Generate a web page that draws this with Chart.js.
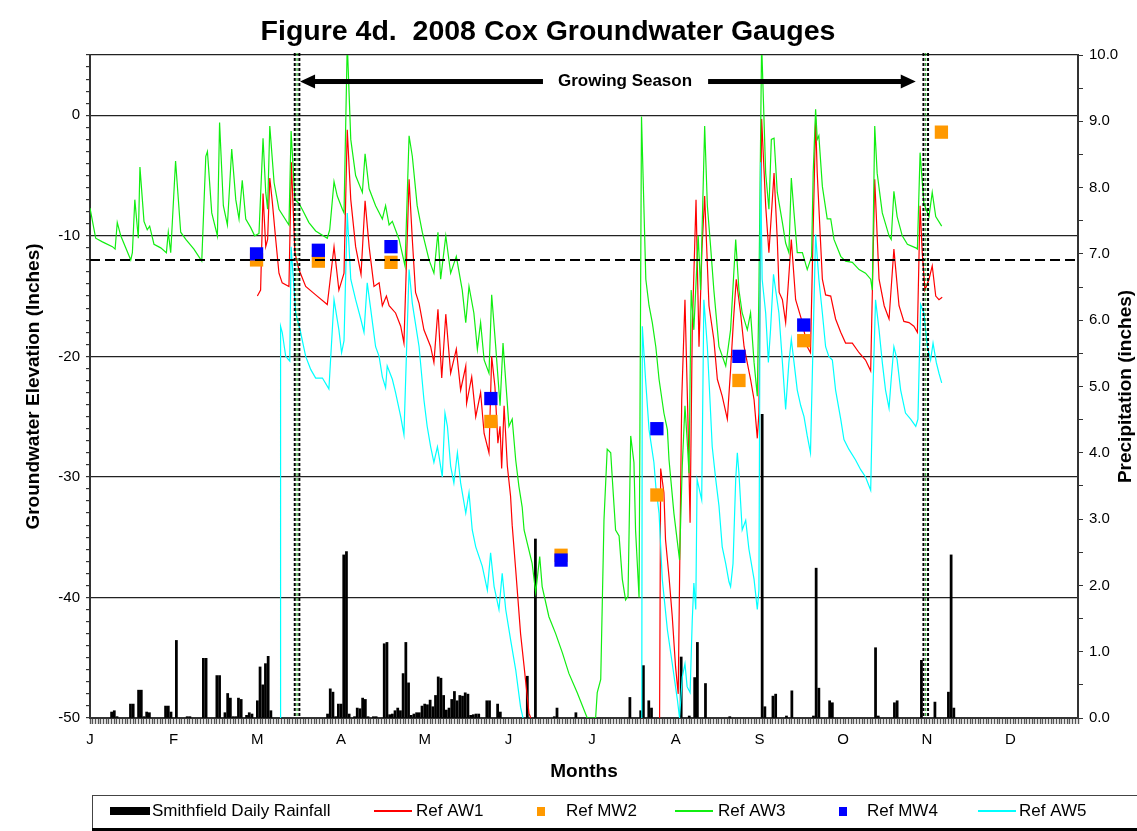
<!DOCTYPE html>
<html lang="en">
<head>
<meta charset="UTF-8">
<title>Figure 4d. 2008 Cox Groundwater Gauges</title>
<script src="https://cdn.jsdelivr.net/npm/chart.js"></script>
<style>
  body { margin: 0; background: #fff; }
</style>
</head>
<body>
<canvas id="gwChart" width="1137" height="831"></canvas>
<script>
// x = day of 2008 (0 = 1 Jan), y = inches
const monthLetters = ['J', 'F', 'M', 'A', 'M', 'J', 'J', 'A', 'S', 'O', 'N', 'D'];

const rainfall = [
  [8,0.09],[9,0.11],[10,0.02],[15,0.21],[16,0.21],[18,0.42],[19,0.42],[20,0.02],[21,0.09],[22,0.08],
  [28,0.18],[29,0.18],[30,0.09],[32,1.17],[36,0.02],[37,0.02],[42,0.90],[43,0.90],[47,0.64],[48,0.64],
  [50,0.08],[51,0.37],[52,0.30],[53,0.02],[54,0.02],[55,0.30],[56,0.28],[58,0.04],[59,0.08],[60,0.06],
  [62,0.26],[63,0.77],[64,0.50],[65,0.82],[66,0.93],[67,0.11],[88,0.06],[89,0.44],[90,0.39],[91,0.02],
  [92,0.21],[93,0.21],[94,2.46],[95,2.51],[96,0.06],[98,0.02],[99,0.15],[100,0.14],[101,0.30],[102,0.28],
  [103,0.02],[105,0.02],[106,0.02],[109,1.12],[110,1.14],[111,0.05],[112,0.06],[113,0.11],[114,0.15],[115,0.11],
  [116,0.67],[117,1.14],[118,0.53],[119,0.04],[120,0.06],[121,0.08],[122,0.08],[123,0.18],[124,0.21],[125,0.20],
  [126,0.27],[127,0.17],[128,0.34],[129,0.62],[130,0.60],[131,0.34],[132,0.12],[133,0.15],[134,0.28],[135,0.40],
  [136,0.26],[137,0.34],[138,0.33],[139,0.38],[140,0.36],[141,0.04],[142,0.05],[143,0.06],[144,0.06],[147,0.26],
  [148,0.26],[151,0.21],[152,0.09],[162,0.63],[165,2.70],[172,0.02],[173,0.15],[180,0.08],[200,0.31],[204,0.11],
  [205,0.79],[207,0.26],[208,0.15],[219,0.92],[222,0.03],[224,0.61],[225,1.14],[228,0.52],[237,0.02],[249,4.58],
  [250,0.17],[253,0.33],[254,0.36],[258,0.03],[260,0.41],[268,0.03],[269,2.26],[270,0.45],[274,0.26],[275,0.23],
  [291,1.06],[292,0.03],[298,0.23],[299,0.26],[308,0.87],[313,0.24],[318,0.39],[319,2.46],[320,0.15]
];

const refAW1 = [
  [62.0,-15.0],[63.2,-14.5],[64.1,-6.5],[65.1,-10.9],[65.8,-10.3],[66.6,-5.2],[67.5,-7.1],[68.8,-10.3],[70.0,-13.1],
  [71.2,-13.9],[73.7,-14.2],[74.6,-3.9],[75.9,-11.4],[77.4,-12.8],[79.9,-14.2],[83.6,-14.9],[87.9,-15.7],[90.4,-10.9],
  [92.2,-14.5],[94.1,-13.1],[95.3,-1.2],[96.6,-7.0],[98.4,-10.9],[100.4,-13.2],[101.9,-7.1],[103.4,-10.9],[105.2,-14.2],
  [107.1,-13.9],[108.3,-15.8],[109.8,-15.0],[110.8,-15.8],[113.2,-16.4],[115.1,-17.5],[116.3,-18.9],[118.2,-5.3],
  [119.4,-10.3],[120.6,-14.7],[121.9,-15.6],[123.7,-17.8],[126.2,-19.2],[127.4,-20.5],[128.9,-16.1],[130.3,-21.8],
  [131.8,-16.5],[133.6,-21.4],[135.7,-19.4],[137.3,-22.8],[139.2,-20.8],[139.5,-23.9],[141.4,-21.7],[142.9,-25.0],
  [144.7,-23.0],[146.0,-26.4],[147.8,-28.0],[148.8,-20.0],[150.0,-22.5],[151.1,-27.2],[151.9,-25.8],[152.5,-29.3],
  [153.4,-24.1],[154.6,-29.1],[155.8,-31.6],[156.4,-34.0],[157.7,-37.7],[159.5,-43.0],[160.8,-45.7],[162.6,-49.6],
  [163.3,-50],[190,null],
  [211.0,-50],[211.4,-29.3],[212.6,-31.3],[213.2,-35.2],[214.5,-38.3],[215.7,-41.6],[216.9,-45.7],[217.9,-48.0],
  [219.2,-23.6],[220.4,-15.3],[221.5,-25.2],[222.3,-33.8],[223.1,-17.8],[224.5,-7.0],[225.6,-19.2],[226.7,-11.1],
  [227.7,-6.7],[229.3,-15.8],[231.1,-18.6],[232.4,-21.9],[234.2,-23.3],[236.1,-25.2],[237.3,-21.1],[238.4,-16.9],
  [239.4,-13.6],[241.0,-16.4],[242.3,-19.2],[244.7,-21.9],[246.0,-23.6],[247.2,-26.8],[247.8,-24.7],[248.8,-0.3],
  [250.3,-7.5],[251.5,-11.4],[253.4,-4.8],[254.6,-10.3],[255.3,-14.7],[256.5,-15.3],[257.7,-17.2],[259.8,-10.3],
  [261.4,-15.3],[263.9,-17.2],[265.7,-19.2],[266.9,-19.7],[268.8,-0.3],[269.4,-4.8],[271.3,-13.6],[272.5,-14.9],
  [274.4,-15.0],[276.2,-16.9],[278.1,-18.0],[279.9,-18.9],[282.4,-18.9],[284.9,-19.7],[287.3,-20.3],[289.2,-21.2],
  [290.7,-5.3],[292.3,-13.6],[294.2,-15.8],[296.0,-16.9],[297.8,-11.1],[299.7,-15.8],[301.5,-17.1],[303.4,-17.2],
  [305.2,-17.5],[306.5,-18.0],[307.5,-7.5],[308.3,-11.4],[309.3,-14.5],[310.8,-13.6],[312.0,-12.5],[313.3,-15.0],
  [314.5,-15.3],[315.7,-15.1]
];

const refAW3 = [
  [0,-7.7],[2.1,-10.2],[4.6,-10.5],[8.3,-10.9],[9.3,-11.1],[10.1,-8.9],[11.4,-10.0],[15.1,-12.0],[15.7,-11.4],
  [16.6,-7.0],[17.9,-10.2],[18.5,-4.3],[20.0,-8.8],[21.2,-9.5],[22.1,-9.2],[23.7,-10.7],[26.2,-11.0],[28.3,-11.4],
  [29.0,-9.7],[29.9,-11.4],[31.7,-3.8],[33.6,-9.7],[35.5,-10.3],[38.5,-11.1],[41.4,-12.1],[42.9,-3.4],[43.5,-3.0],
  [45.1,-8.1],[47.2,-10.0],[48.0,-0.6],[49.4,-7.5],[50.9,-9.1],[52.5,-2.8],[54.0,-7.0],[55.2,-8.6],[56.4,-5.4],
  [57.7,-8.6],[59.5,-9.3],[61.0,-10.0],[62.6,-9.8],[64.1,-1.9],[65.1,-6.4],[65.8,-7.8],[66.6,-0.9],[68.2,-5.6],
  [70.0,-7.8],[73.7,-9.1],[74.5,-1.3],[75.9,-7.0],[77.4,-7.3],[78.6,-7.8],[81.1,-8.9],[83.6,-9.6],[87.9,-10.2],
  [88.8,-9.5],[90.4,-5.5],[91.6,-6.7],[93.5,-7.8],[94.1,-8.1],[95.3,6.0],[96.6,-2.0],[98.4,-5.0],[100.9,-6.4],
  [101.9,-3.2],[103.4,-6.1],[105.8,-7.5],[108.3,-8.6],[109.5,-7.5],[110.8,-9.1],[112.0,-8.8],[114.5,-10.3],
  [116.7,-12.5],[118.2,-1.7],[119.4,-3.4],[121.2,-7.5],[123.1,-9.7],[125.6,-12.0],[127.4,-13.1],[128.9,-9.7],
  [129.9,-13.6],[131.8,-10.0],[133.6,-13.1],[135.7,-11.7],[137.9,-14.5],[139.2,-17.2],[140.4,-14.2],[142.2,-16.4],
  [143.5,-19.4],[144.7,-17.2],[146.0,-20.3],[147.8,-21.4],[148.8,-14.9],[150.3,-19.2],[151.9,-24.1],[153.0,-18.9],
  [154.4,-23.3],[155.2,-25.8],[156.4,-25.2],[157.7,-28.6],[158.9,-30.8],[160.1,-32.5],[160.8,-34.4],[163.8,-37.2],
  [165.1,-39.6],[166.6,-36.6],[167.5,-39.1],[170.0,-41.6],[172.5,-43.0],[175.0,-44.6],[177.4,-46.3],[180.5,-47.9],
  [184.2,-50],[187.3,-50],[187.9,-47.9],[189.2,-46.8],[190.4,-33.6],[191.6,-27.7],[192.9,-28.0],[193.5,-30.2],
  [194.7,-34.4],[196.0,-34.9],[197.2,-38.5],[198.4,-40.2],[199.3,-39.9],[200.3,-26.6],[201.5,-28.8],[202.1,-34.4],
  [203.4,-40.0],[204.3,-0.1],[205.9,-13.6],[207.1,-15.8],[208.3,-17.2],[209.6,-19.2],[210.8,-21.9],[212.6,-24.7],
  [213.9,-26.1],[214.5,-28.6],[216.3,-33.0],[218.4,-36.9],[219.4,-29.1],[220.4,-24.1],[221.2,-26.9],[221.9,-29.7],
  [222.7,-14.5],[223.7,-17.8],[225.3,-10.0],[226.2,-14.5],[227.7,-0.9],[228.7,-7.5],[229.9,-10.9],[231.1,-14.5],
  [233.0,-19.2],[235.5,-20.8],[237.3,-17.8],[239.2,-10.3],[240.4,-14.5],[241.6,-16.4],[243.5,-17.8],[244.7,-16.4],
  [246.0,-20.5],[247.2,-23.3],[247.8,-14.5],[248.8,6.0],[250.3,-4.8],[251.5,-7.8],[252.4,-2.0],[253.4,-1.9],
  [254.6,-6.4],[256.5,-8.9],[257.7,-10.6],[258.9,-11.4],[259.8,-5.2],[260.8,-8.1],[262.0,-11.4],[263.9,-11.4],
  [265.7,-12.8],[267.3,-11.7],[267.9,-4.8],[268.8,0.5],[269.4,-2.0],[270.0,-1.7],[271.3,-5.9],[273.1,-8.6],
  [274.4,-8.6],[275.6,-10.3],[278.1,-11.7],[279.9,-12.1],[282.4,-12.2],[284.9,-12.8],[287.3,-13.1],[289.2,-13.6],
  [289.8,-14.5],[290.7,-0.9],[291.6,-4.8],[293.5,-8.1],[296.0,-10.0],[296.8,-10.3],[297.8,-6.3],[299.0,-8.4],
  [300.9,-10.0],[302.8,-10.7],[305.9,-11.0],[306.5,-11.1],[307.5,-3.1],[308.9,-7.3],[310.8,-8.4],[312.0,-6.4],
  [313.3,-8.4],[315.5,-9.2]
];

const refAW5 = [
  [70.4,-50],[70.6,-17.5],[71.2,-18.0],[72.5,-20.0],[74.0,-20.4],[74.5,-10.9],[76.2,-16.4],[78.0,-18.0],[79.9,-20.0],
  [81.8,-21.1],[83.6,-21.8],[86.1,-21.8],[88.5,-22.7],[90.4,-15.3],[92.2,-17.8],[93.2,-19.7],[94.1,-18.7],[95.3,-8.1],
  [96.6,-13.6],[98.4,-15.3],[100.3,-16.9],[101.5,-18.0],[102.7,-13.9],[104.0,-16.1],[105.8,-19.2],[107.1,-20.0],
  [108.3,-21.7],[109.5,-22.6],[110.1,-20.8],[112.0,-21.9],[113.2,-23.0],[115.1,-25.0],[116.3,-26.5],[118.2,-12.8],
  [119.4,-15.6],[121.9,-19.2],[123.7,-23.6],[124.9,-25.8],[126.2,-27.5],[127.4,-28.8],[128.7,-27.5],[129.3,-28.3],
  [130.5,-30.0],[131.5,-24.7],[132.4,-25.8],[133.6,-29.1],[134.8,-30.5],[136.1,-28.0],[137.3,-30.5],[139.2,-33.0],
  [140.4,-31.3],[141.6,-34.4],[142.9,-35.8],[145.3,-37.4],[147.2,-39.4],[148.4,-36.3],[149.7,-39.1],[151.5,-41.0],
  [152.7,-38.0],[154.0,-41.0],[155.8,-43.5],[157.7,-46.0],[159.5,-49.1],[160.4,-50],[180,null],
  [204.4,-50],[204.6,-17.5],[205.8,-21.9],[207.1,-26.1],[208.9,-28.8],[209.6,-30.8],[210.8,-33.0],[212.0,-38.5],
  [213.9,-42.7],[215.7,-45.5],[217.6,-48.5],[218.4,-50],[219.4,-46.6],[220.4,-45.5],[221.2,-47.4],[222.3,-47.9],
  [223.1,-41.9],[223.7,-38.8],[224.4,-41.0],[224.9,-30.2],[226.6,-31.9],[227.4,-15.3],[228.7,-19.2],[229.9,-24.7],
  [230.5,-27.5],[231.8,-30.2],[233.0,-32.4],[234.2,-35.8],[235.5,-37.2],[236.7,-38.7],[237.3,-39.1],[238.2,-37.2],
  [239.2,-30.2],[239.8,-28.0],[240.4,-29.7],[241.6,-34.4],[242.9,-33.6],[244.1,-36.0],[246.0,-38.5],[247.2,-41.0],
  [247.8,-39.4],[248.4,-3.9],[249.0,-13.6],[250.3,-16.4],[251.3,-20.5],[252.1,-17.8],[253.2,-13.2],[255.2,-16.4],
  [256.5,-20.5],[257.7,-24.4],[258.9,-20.5],[259.8,-18.6],[260.8,-20.5],[262.0,-22.8],[263.3,-24.1],[264.5,-25.0],
  [265.7,-26.6],[266.9,-28.0],[268.8,-9.9],[270.0,-13.6],[271.3,-16.4],[272.5,-19.2],[273.7,-20.0],[275.0,-20.3],
  [276.2,-22.8],[278.1,-25.2],[279.3,-26.9],[281.1,-27.7],[283.6,-28.6],[285.5,-29.4],[287.3,-30.0],[289.2,-31.1],
  [289.8,-24.7],[291.0,-15.3],[292.3,-17.8],[293.5,-20.5],[294.7,-22.8],[296.0,-24.3],[296.8,-21.9],[297.8,-19.2],
  [299.0,-20.3],[300.3,-22.8],[302.1,-24.7],[304.0,-25.2],[305.9,-25.8],[306.7,-25.2],[307.7,-15.7],[308.9,-16.4],
  [310.2,-19.2],[311.4,-20.3],[312.3,-18.9],[313.5,-20.5],[314.5,-21.4],[315.5,-22.2]
];

const refMW2 = [
  [61.7,-12.0],[84.6,-12.1],[111.5,-12.2],[148.5,-25.4],[174.5,-36.5],[210.0,-31.5],[240.4,-22.0],[264.4,-18.7],[315.4,-1.4]
];
const refMW4 = [
  [61.7,-11.5],[84.6,-11.2],[111.5,-10.9],[148.5,-23.5],[174.5,-36.9],[210.0,-26.0],[240.4,-20.0],[264.4,-17.4]
];

const referenceLevel = -12;      // dashed line
const seasonStart = 76.7;        // growing season limits (day of year)
const seasonEnd = 309.6;
const seasonLabelDay = 198.2;
const seasonArrowLevel = 2.8;

const toXY = pairs => pairs.map(([x, y]) => ({ x, y }));

const FONT = 'Arial, "Liberation Sans", Helvetica, sans-serif';
Chart.defaults.font.family = FONT;
Chart.defaults.color = '#000';

// legend positions (left of symbol, left of text)
const legendSlots = [
  { sx: 110, tx: 152, kind: 'bar' },
  { sx: 374, tx: 416, kind: 'line' },
  { sx: 537, tx: 566, kind: 'box' },
  { sx: 675, tx: 718, kind: 'line' },
  { sx: 839, tx: 867, kind: 'box' },
  { sx: 978, tx: 1019, kind: 'line' }
];

const extras = {
  id: 'extras',
  afterDatasetsDraw(chart) {
    const { ctx, chartArea: a, scales: { x, y } } = chart;
    const seg = (x1, y1, x2, y2) => { ctx.beginPath(); ctx.moveTo(x1, y1); ctx.lineTo(x2, y2); ctx.stroke(); };
    ctx.save();

    // reference level
    const yr = y.getPixelForValue(referenceLevel);
    ctx.strokeStyle = '#000';
    ctx.lineWidth = 2;
    ctx.setLineDash([10, 5]);
    seg(a.left, yr, a.right, yr);

    // growing season boundaries (double dotted lines)
    [seasonStart, seasonEnd].forEach(d => {
      const px = x.getPixelForValue(d);
      ctx.setLineDash([3, 2]);
      ctx.strokeStyle = '#000';
      ctx.lineWidth = 2;
      seg(px - 2.3, a.top - 2, px - 2.3, a.bottom);
      seg(px + 2.3, a.top - 2, px + 2.3, a.bottom);
      ctx.strokeStyle = '#009900';
      ctx.lineWidth = 1;
      seg(px, a.top - 2, px, a.bottom);
    });

    // growing season arrow
    ctx.setLineDash([]);
    const ya = y.getPixelForValue(seasonArrowLevel);
    const xl = x.getPixelForValue(seasonStart) + 3;
    const xr = x.getPixelForValue(seasonEnd) - 10;
    const xm = x.getPixelForValue(seasonLabelDay);
    ctx.font = 'bold 17px ' + FONT;
    const tw = ctx.measureText('Growing Season').width;
    ctx.fillStyle = '#000';
    ctx.fillRect(xl + 14, ya - 2.5, xm - tw / 2 - 15 - (xl + 14), 5);
    ctx.fillRect(xm + tw / 2 + 16, ya - 2.5, xr - 14 - (xm + tw / 2 + 16), 5);
    ctx.beginPath();
    ctx.moveTo(xl, ya); ctx.lineTo(xl + 15, ya - 7); ctx.lineTo(xl + 15, ya + 7); ctx.closePath(); ctx.fill();
    ctx.beginPath();
    ctx.moveTo(xr, ya); ctx.lineTo(xr - 15, ya - 7); ctx.lineTo(xr - 15, ya + 7); ctx.closePath(); ctx.fill();
    ctx.textAlign = 'center';
    ctx.textBaseline = 'middle';
    ctx.fillText('Growing Season', xm, ya);
    ctx.restore();
  },
  afterDraw(chart) {
    const { ctx, chartArea: a } = chart;
    ctx.save();
    // title
    ctx.fillStyle = '#000';
    ctx.font = 'bold 28.5px ' + FONT;
    ctx.textAlign = 'center';
    ctx.textBaseline = 'middle';
    ctx.fillText('Figure 4d.  2008 Cox Groundwater Gauges', 548, 32);

    // secondary axis title, read bottom to top
    ctx.save();
    ctx.translate(1126, (a.top + a.bottom) / 2);
    ctx.rotate(-Math.PI / 2);
    ctx.font = 'bold 19px ' + FONT;
    ctx.fillText('Precipitation (inches)', 0, 0);
    ctx.restore();

    // legend box
    ctx.strokeStyle = '#444';
    ctx.lineWidth = 1;
    ctx.strokeRect(92.5, 795.5, 1060, 33);
    ctx.fillStyle = '#000';
    ctx.fillRect(92, 828, 1045, 3);

    const ly = 811;
    ctx.font = '17px ' + FONT;
    ctx.textAlign = 'left';
    chart.data.datasets.forEach((ds, i) => {
      const s = legendSlots[i];
      if (s.kind === 'bar') {
        ctx.fillStyle = ds.backgroundColor;
        ctx.fillRect(s.sx, ly - 4, 40, 8);
      } else if (s.kind === 'line') {
        ctx.strokeStyle = ds.borderColor;
        ctx.lineWidth = 2;
        ctx.beginPath(); ctx.moveTo(s.sx, ly); ctx.lineTo(s.sx + 38, ly); ctx.stroke();
      } else {
        ctx.fillStyle = ds.backgroundColor;
        ctx.fillRect(s.sx, ly - 4, 8, 9);
      }
      ctx.fillStyle = '#000';
      ctx.fillText(ds.label, s.tx, ly);
    });
    ctx.restore();
  }
};

new Chart(document.getElementById('gwChart'), {
  type: 'line',
  data: {
    datasets: [
      { type: 'bar', label: 'Smithfield Daily Rainfall', data: toXY(rainfall), yAxisID: 'y2',
        backgroundColor: '#000', barThickness: 2.1, order: 6 },
      { label: 'Ref AW1', data: toXY(refAW1), borderColor: '#ff0000', borderWidth: 1.2,
        pointRadius: 0, spanGaps: false, order: 5 },
      { label: 'Ref MW2', data: toXY(refMW2), showLine: false, pointStyle: 'rect', pointRadius: 9.4,
        backgroundColor: '#ff9900', borderColor: '#ff9900', pointBorderWidth: 0, order: 2 },
      { label: 'Ref AW3', data: toXY(refAW3), borderColor: '#11ee11', borderWidth: 1.2,
        pointRadius: 0, order: 4 },
      { label: 'Ref MW4', data: toXY(refMW4), showLine: false, pointStyle: 'rect', pointRadius: 9.4,
        backgroundColor: '#0000ff', borderColor: '#0000ff', pointBorderWidth: 0, order: 1 },
      { label: 'Ref AW5', data: toXY(refAW5), borderColor: '#00ffff', borderWidth: 1.2,
        pointRadius: 0, spanGaps: false, order: 3 }
    ]
  },
  options: {
    responsive: false,
    animation: false,
    events: [],
    layout: { padding: { top: 55, right: 0, bottom: 45, left: 0 } },
    plugins: { legend: { display: false }, tooltip: { enabled: false } },
    scales: {
      x: {
        type: 'linear', min: 0, max: 366, offset: false,
        grid: { drawOnChartArea: false, offset: false, tickLength: 6, tickColor: '#555', tickWidth: 1.4 },
        border: { color: '#333', width: 2 },
        ticks: {
          stepSize: 1, autoSkip: false, maxRotation: 0, padding: 7, font: { size: 15 },
          callback: v => (v % 31 === 0 && v / 31 < 12) ? monthLetters[v / 31] : ''
        },
        title: { display: true, text: 'Months', font: { size: 19, weight: 'bold' }, padding: { top: 0, bottom: 3 } },
        afterFit: s => { s.height = 68; }
      },
      y: {
        type: 'linear', position: 'left', min: -50, max: 5,
        grid: {
          color: c => ((c.tick.value % 10 === 0 && c.tick.value > -50) || c.tick.value === 5) ? '#222' : 'rgba(0,0,0,0)',
          lineWidth: 1.2, tickColor: '#333', tickLength: 4
        },
        border: { color: '#333', width: 2 },
        ticks: {
          stepSize: 1, autoSkip: false, padding: 6, font: { size: 15 },
          callback: v => (v % 10 === 0 && v <= 0) ? String(v) : ''
        },
        title: { display: true, text: 'Groundwater Elevation (Inches)', font: { size: 19, weight: 'bold' },
                 padding: { top: 22, bottom: 0 } },
        afterFit: s => { s.width = 90; }
      },
      y2: {
        type: 'linear', position: 'right', min: 0, max: 10,
        grid: { drawOnChartArea: false, tickColor: '#333', tickLength: 5 },
        border: { color: '#333', width: 2 },
        ticks: {
          stepSize: 0.5, autoSkip: false, padding: 6, font: { size: 15 },
          callback: v => Number.isInteger(v) ? v.toFixed(1) : ''
        },
        title: { display: false },
        afterFit: s => { s.width = 59; }
      }
    }
  },
  plugins: [extras]
});
</script>
</body>
</html>
